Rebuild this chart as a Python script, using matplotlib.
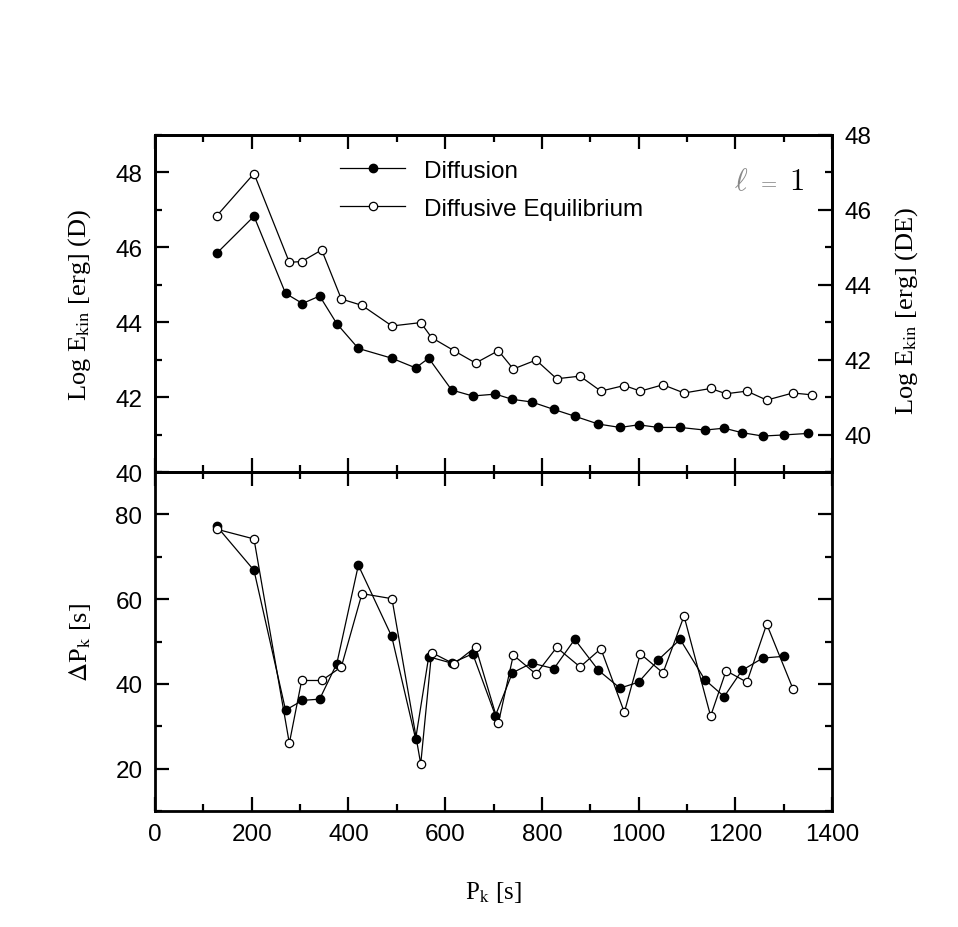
import matplotlib
matplotlib.use('Agg')
import matplotlib.pyplot as plt
from matplotlib.lines import Line2D
from matplotlib.ticker import MultipleLocator

plt.rcParams['font.family'] = ['Liberation Sans', 'DejaVu Sans']
plt.rcParams['mathtext.fontset'] = 'stix'

# periods and kinetic energies (diffusion, left axis)
P_D = [127.6, 204.7, 270, 305, 340.5, 376, 420.5, 489.5, 539, 566, 613.5, 657,
       704, 739, 779, 825, 868, 917, 961.6, 1000, 1041, 1086, 1137, 1177, 1214,
       1257, 1301, 1350]
E_D = [45.84, 46.83, 44.77, 44.50, 44.70, 43.96, 43.30, 43.04, 42.78, 43.04,
       42.19, 42.03, 42.08, 41.94, 41.87, 41.67, 41.49, 41.28, 41.19, 41.26,
       41.19, 41.19, 41.12, 41.17, 41.05, 40.96, 40.99, 41.03]
dP_D = [77.2, 66.8, 33.8, 36.1, 36.4, 44.8, 68.0, 51.2, 27.0, 46.4, 44.9, 47.1,
        32.5, 42.6, 44.9, 43.6, 50.5, 43.2, 39.0, 40.4, 45.7, 50.5, 41.0, 37.0,
        43.2, 46.1, 46.5]

# diffusive equilibrium (right axis)
P_DE = [127.6, 204.7, 277.8, 303.3, 344.7, 385.3, 428, 490, 549.5, 572, 618.3,
        663, 710, 741, 788, 830.6, 879, 922, 970.6, 1003.7, 1050.5, 1094, 1149,
        1181, 1224, 1265, 1319, 1359]
E_DE = [45.84, 46.97, 44.60, 44.62, 44.93, 43.62, 43.45, 42.90, 42.99, 42.59,
        42.24, 41.91, 42.24, 41.75, 41.99, 41.49, 41.56, 41.16, 41.31, 41.16,
        41.33, 41.11, 41.23, 41.09, 41.16, 40.92, 41.11, 41.06]
dP_DE = [76.5, 74.2, 26.0, 40.8, 40.8, 44.0, 61.3, 60.1, 21.1, 47.4, 44.7, 48.7,
         30.7, 46.8, 42.3, 48.6, 44.0, 48.3, 33.3, 47.1, 42.6, 56.0, 32.4, 43.1,
         40.4, 54.1, 38.9]

W, H = 958, 928
fig = plt.figure(figsize=(W / 100, H / 100), dpi=100)
L, R = 155 / W, 832 / W
ax1 = fig.add_axes([L, 1 - 473 / H, R - L, (473 - 136) / H])
ax2 = fig.add_axes([L, 1 - 812 / H, R - L, (812 - 473) / H], sharex=ax1)
ax1r = ax1.twinx()

lw = 0.9
ms = 6
filled = dict(color='black', lw=lw, marker='o', ms=ms, mfc='black', mec='black')
opened = dict(color='black', lw=lw, marker='o', ms=ms, mfc='white', mec='black', mew=0.9)

ax1.plot(P_D, E_D, **filled)
ax1r.plot(P_DE, E_DE, **opened)
ax2.plot(P_D[:-1], dP_D, **filled)
ax2.plot(P_DE[:-1], dP_DE, **opened)

ax1.set_xlim(0, 1400)
ax1.set_ylim(40, 49)
ax1r.set_ylim(39, 48)
ax2.set_ylim(10, 90)

ax1.xaxis.set_major_locator(MultipleLocator(200))
ax1.xaxis.set_minor_locator(MultipleLocator(100))
ax1.yaxis.set_major_locator(MultipleLocator(2))
ax1.yaxis.set_minor_locator(MultipleLocator(1))
ax1r.yaxis.set_major_locator(MultipleLocator(2))
ax1r.yaxis.set_minor_locator(MultipleLocator(1))
ax2.yaxis.set_major_locator(MultipleLocator(20))
ax2.yaxis.set_minor_locator(MultipleLocator(10))

for a in (ax1, ax2, ax1r):
    a.tick_params(which='both', direction='in', width=1.6, labelsize=17.5, pad=9)
    a.tick_params(which='major', length=10)
    a.tick_params(which='minor', length=5)
    for s in a.spines.values():
        s.set_linewidth(2)

ax1.tick_params(which='both', top=True, bottom=True, left=True, right=False,
                labelbottom=False)
ax1r.tick_params(which='both', left=False, right=True, top=False, bottom=False,
                 labelbottom=False)
ax2.tick_params(which='both', top=True, bottom=True, left=True, right=True,
                labelright=False)

serif = dict(family=['Liberation Serif', 'DejaVu Serif'], size=19)
ax1.set_ylabel(r'Log E$_{\mathrm{kin}}$ [erg] (D)', **serif)
ax1r.set_ylabel(r'Log E$_{\mathrm{kin}}$ [erg] (DE)', **serif)
ax2.set_ylabel(r'$\Delta$P$_{\mathrm{k}}$ [s]', **serif)
ax2.set_xlabel(r'P$_{\mathrm{k}}$ [s]', family=['Liberation Serif', 'DejaVu Serif'],
               size=18)
ax1.yaxis.set_label_coords(-0.092, 0.5)
ax2.yaxis.set_label_coords(-0.092, 0.5)
ax1r.yaxis.set_label_coords(1.09, 0.48)
ax2.xaxis.set_label_coords(0.5, -0.2)

handles = [Line2D([], [], **filled), Line2D([], [], **opened)]
ax1r.legend(handles, ['Diffusion', 'Diffusive Equilibrium'], loc='upper left',
            bbox_to_anchor=(0.273, 0.926), borderaxespad=0, borderpad=0,
            frameon=False, fontsize=17.5, handlelength=2.7, handletextpad=0.75,
            labelspacing=0.65)

# l = 1 label
for txt, xf, col, fs in [(r'$\ell$', 0.866, '#888888', 22),
                         (r'$=$', 0.905, '#888888', 15),
                         (r'$1$', 0.948, 'black', 22)]:
    ax1r.text(xf, 0.863, txt, transform=ax1r.transAxes, ha='center',
              va='center', fontsize=fs, color=col, math_fontfamily='cm')

fig.savefig('out.png', dpi=100)
